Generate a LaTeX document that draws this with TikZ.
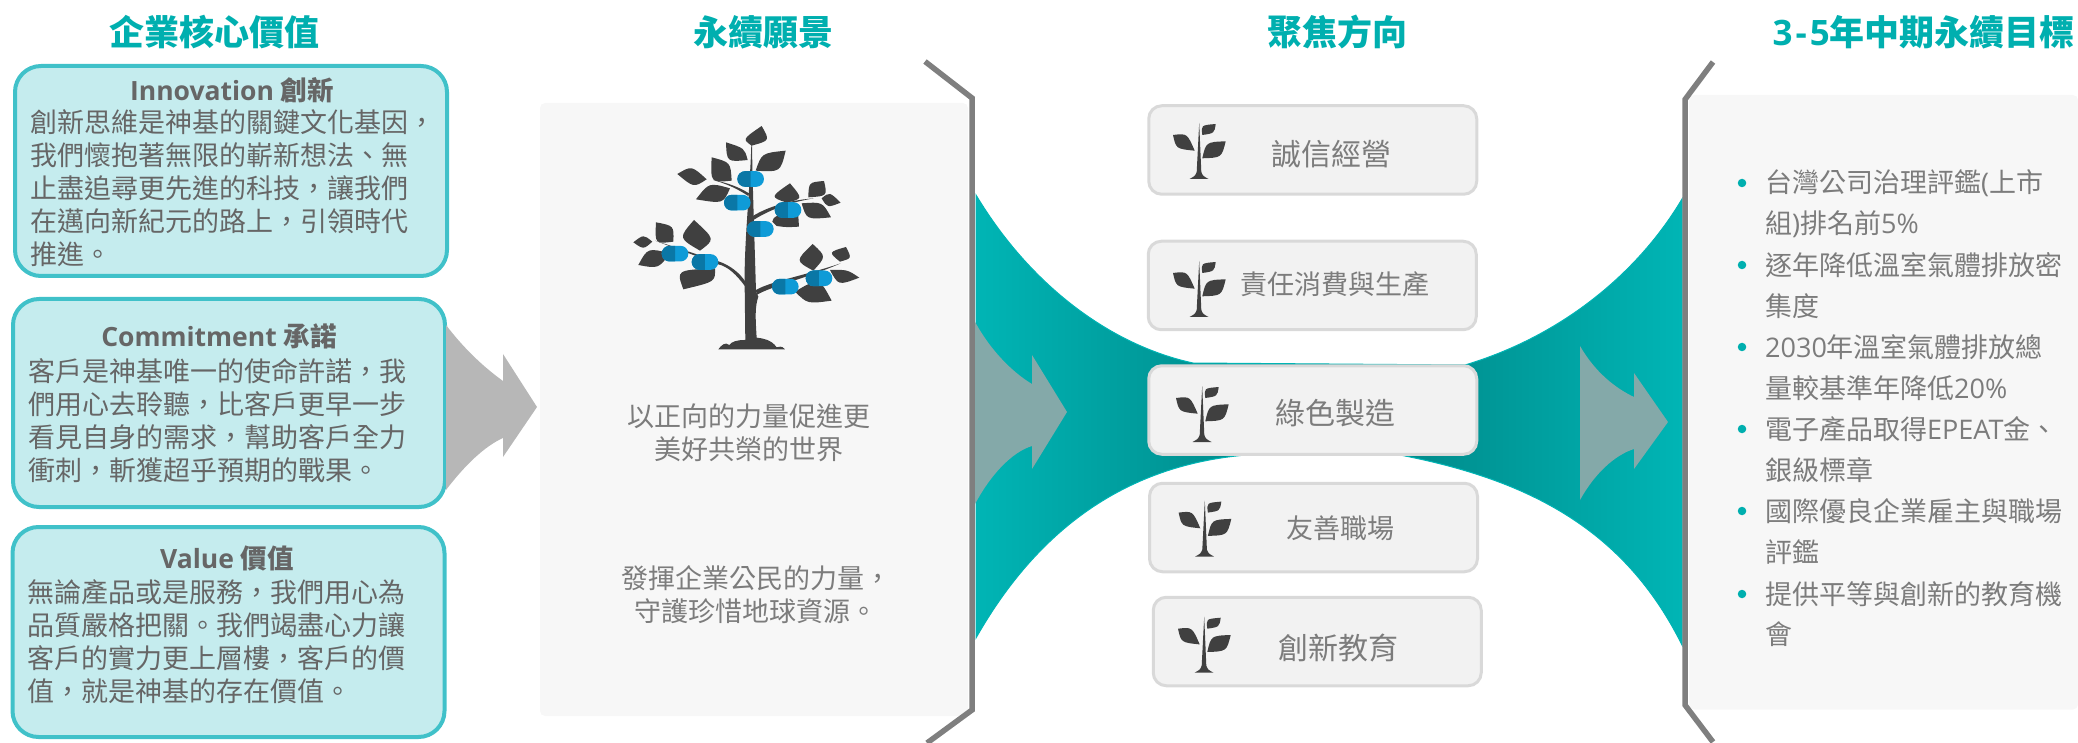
\documentclass[tikz,border=0pt]{standalone}
\usepackage{fontspec}
\setmainfont{Open Sans}
\newfontfamily\cjk{Noto Sans CJK TC}
\newcommand{\lat}[1]{{\rmfamily #1}}
\newcommand{\drawleaf}[8]{\fill[leaffill] (#1,#2) .. controls ({(8*#5-#1-#3)/6},{(8*#6-#2-#4)/6}) .. (#3,#4) .. controls ({(8*#7-#1-#3)/6},{(8*#8-#2-#4)/6}) .. (#1,#2) -- cycle;}

\definecolor{tealtitle}{HTML}{00AFAF}
\definecolor{valuefill}{HTML}{C5ECEE}
\definecolor{valueline}{HTML}{40C1C9}
\definecolor{bodygray}{HTML}{666666}
\definecolor{softgray}{HTML}{7C7C7C}
\definecolor{panelfill}{HTML}{F7F7F7}
\definecolor{bracketgray}{HTML}{7F7F7F}
\definecolor{arrowgray}{HTML}{B7B7B7}
\definecolor{arrowteal}{HTML}{84A9A9}
\definecolor{funneledge}{HTML}{00B5B5}
\definecolor{funnelmid}{HTML}{007F7F}
\definecolor{focusfill}{HTML}{F2F2F2}
\definecolor{focusline}{HTML}{D9D9D9}
\definecolor{leaffill}{HTML}{404040}
\definecolor{capdark}{HTML}{0A77A6}
\definecolor{caplight}{HTML}{0F9BD7}

\tikzset{
    title/.style={text=tealtitle, font=\fontsize{35}{40}\selectfont\cjk\bfseries, inner sep=0pt},
    valuebox/.style={draw=valueline, fill=valuefill, line width=4pt, rounded corners=26pt, inner sep=0pt},
    valuehead/.style={text=bodygray, font=\fontsize{26.5}{32}\selectfont\bfseries, inner sep=0pt},
    valuetext/.style={text=bodygray, font=\fontsize{27}{33}\selectfont\cjk, align=left, anchor=north west, inner sep=0pt},
    paneltext/.style={text=softgray, font=\fontsize{27}{33}\selectfont\cjk, align=center, inner sep=0pt},
    focusbox/.style={draw=focusline, fill=focusfill, line width=3pt, rounded corners=13pt, minimum width=328pt, minimum height=88.5pt, inner sep=0pt},
    focustext/.style={text=softgray, inner sep=0pt},
    goaltext/.style={text=softgray, font=\fontsize{27}{41}\selectfont\cjk, inner sep=0pt, anchor=west},
    goaldot/.style={circle, fill=tealtitle, minimum size=8.5pt, inner sep=0pt},
    bracket/.style={draw=bracketgray, line width=5.5pt},
    sprout/.pic={
        \drawleaf{-26}{-44}{-4.3}{-28.3}{-12.7}{-43.3}{-21}{-31.7}
        \drawleaf{16.7}{-55}{3.3}{-44}{4}{-52.7}{14}{-46.7}
        \drawleaf{26.7}{-37.7}{3.3}{-20.7}{9}{-35}{20.7}{-23.3}
        \fill[leaffill] (0.2,-56) -- (-2.3,-7) .. controls (-4,-3) .. (-9.5,0) -- (9.5,0) .. controls (4,-3) .. (2.3,-7) -- cycle;
    }
}

\begin{document}
\begin{tikzpicture}[x=1pt, y=-1pt]
    \useasboundingbox (0,0) rectangle (2078,743);

    % Column titles
    \node[title] (titlevalue) at (214.5,32) {企業核心價值};
    \node[title] (titlevision) at (763,32) {永續願景};
    \node[title] (titlefocus) at (1337.5,32) {聚焦方向};
    \node[title, anchor=east] (titlegoal) at (2075,32) {\lat{3\kern3pt-\kern3pt5}年中期永續目標};

    % Core value boxes
    \foreach \nom/\cx/\cy/\ht in {innovation/231/171/210, commitment/229/403/208, value/228.5/632/210} {
        \node[valuebox, minimum width=432pt, minimum height=\ht pt] (\nom) at (\cx,\cy) {};
    }
    \node[valuehead] (innovationhead) at (232,90) {Innovation {\cjk 創新}};
    \node[valuetext] (innovationtext) at (30,109.5) {創新思維是神基的關鍵文化基因，\\我們懷抱著無限的嶄新想法、無\\止盡追尋更先進的科技，讓我們\\在邁向新紀元的路上，引領時代\\推進。};
    \node[valuehead] (commitmenthead) at (219,336) {Commitment {\cjk 承諾}};
    \node[valuetext] (commitmenttext) at (28,358) {客戶是神基唯一的使命許諾，我\\們用心去聆聽，比客戶更早一步\\看見自身的需求，幫助客戶全力\\衝刺，斬獲超乎預期的戰果。};
    \node[valuehead] (valuehead) at (227,558) {Value {\cjk 價值}};
    \node[valuetext] (valuetext) at (27,579) {無論產品或是服務，我們用心為\\品質嚴格把關。我們竭盡心力讓\\客戶的實力更上層樓，客戶的價\\值，就是神基的存在價值。};

    % Grey arrow
    \fill[arrowgray] (446,325) .. controls (465,350) and (485,368) .. (503,381) -- (503,354) -- (537,407) -- (503,457) -- (503,438) .. controls (485,446) and (465,465) .. (446,490) -- cycle;

    % Panels
    \fill[panelfill, rounded corners=5pt] (540,103) rectangle (968,716);
    \fill[panelfill, rounded corners=5pt] (1689,95) rectangle (2078,709.5);

    % Teal funnel
    \shade[left color=funneledge, right color=funneledge, middle color=funnelmid, draw=funneledge, line width=1pt]
        (976,195) .. controls (1030,285) and (1110,345) .. (1193,363) -- (1465,365)
        .. controls (1565,335) and (1640,270) .. (1682,199) -- (1682,645)
        .. controls (1625,530) and (1530,480) .. (1400,455) -- (1246,455)
        .. controls (1130,465) and (1040,525) .. (976,638) -- cycle;

    % Arrows on the funnel
    \fill[arrowteal] (974,320) .. controls (990,350) and (1012,372) .. (1032,384) -- (1032,355) -- (1067,412) -- (1032,469) -- (1032,446) .. controls (1012,452) and (990,475) .. (974,506) -- cycle;
    \fill[arrowteal] (1580,346) .. controls (1595,372) and (1615,388) .. (1634,397) -- (1634,373) -- (1668,422) -- (1634,469) -- (1634,449) .. controls (1615,455) and (1595,473) .. (1580,500) -- cycle;

    % Brackets
    \draw[bracket] (925,61.5) -- (972,98) -- (972,710) -- (927,743);
    \draw[bracket] (1713,62) -- (1685,99.5) -- (1685,705) -- (1713,742);

    % Tree
    \begin{scope}[shift={(620,110)}, x=0.3333pt, y=-0.3333pt]
        \fill[leaffill] (394,105) .. controls (390,240) and (372,400) .. (374,525) -- (376,690)
            .. controls (350,690) and (335,695) .. (328,705) .. controls (315,695) and (305,705) .. (295,718) -- (495,718)
            .. controls (485,705) and (475,712) .. (470,712) .. controls (455,690) and (430,685) .. (410,683)
            .. controls (406,620) and (405,590) .. (415,560) -- (408,545) .. controls (404,400) and (398,240) .. (396,105) -- cycle;
        \fill[leaffill] (376,530) .. controls (350,495) and (325,470) .. (295,463) -- (105,392) -- (295,454) .. controls (330,465) and (360,490) .. (376,515) -- cycle;
        \fill[leaffill] (385,258) .. controls (350,235) and (320,222) .. (280,210) .. controls (320,218) and (355,230) .. (387,250) -- cycle;
        \fill[leaffill] (393,335) .. controls (430,310) and (490,280) .. (582,265) .. controls (490,272) and (425,300) .. (393,322) -- cycle;
        \fill[leaffill] (410,555) .. controls (450,530) and (560,505) .. (662,460) .. controls (560,495) and (450,515) .. (408,540) -- cycle;
        \foreach \ax/\ay/\bx/\by/\ux/\uy/\lx/\ly in {
            425/48/395/107/440/88/378/85, 318/97/383/150/368/117/328/148, 497/122/407/182/432/135/474/178,
            275/142/335/212/325/162/280/208, 172/192/260/208/215/175/220/225, 228/268/330/235/270/226/302/274,
            510/220/500/278/538/262/464/258, 612/213/565/262/572/222/614/253, 662/278/605/265/630/252/625/288,
            633/322/545/280/603/282/567/322, 40/397/97/395/70/379/70/413, 108/337/160/395/155/352/112/393,
            222/330/240/422/272/385/189/382, 55/465/150/430/88/422/112/469, 190/538/285/475/186/487/274/513,
            578/402/580/482/609/440/539/450, 678/411/660/455/636/428/689/442, 718/503/630/480/680/482/660/518,
            635/572/525/545/593/516/567/576} {
            \drawleaf{\ax}{\ay}{\bx}{\by}{\ux}{\uy}{\lx}{\ly}
        }
        \fill[leaffill] (457,335) .. controls (460,325) .. (470,318) -- (535,318) -- (537,350) .. controls (500,352) .. (470,348) -- cycle;
        % Blue capsules
        \foreach \cx/\cy in {392/207, 352/278, 504/300, 421/357, 165/431, 255/456, 496/530, 597/505} {
            \fill[caplight, rounded corners=7.8pt] (\cx-40,\cy-23.5) rectangle (\cx+40,\cy+23.5);
            \fill[capdark] (\cx,\cy-23.5) [rounded corners=7.8pt] -- (\cx-40,\cy-23.5) -- (\cx-40,\cy+23.5) [sharp corners] -- (\cx,\cy+23.5) -- cycle;
        }
    \end{scope}

    % Vision texts
    \node[paneltext] (visiontop) at (749,433) {以正向的力量促進更\\美好共榮的世界};
    \node[paneltext] (visionbottom) at (756,594.5) {發揮企業公民的力量，\\守護珍惜地球資源。};

    % Focus boxes
    \foreach \nom/\cx/\cy/\sx/\sy/\txt/\tx/\ty/\sz in {
        integrity/1312.75/150/1199/179/誠信經營/1331/154/30,
        consume/1312.25/285.5/1199/317/責任消費與生產/1334.6/284/27,
        green/1312.75/410/1202/442/綠色製造/1335/413.5/30,
        workplace/1313.5/527.5/1204.6/556.6/友善職場/1340/528/27,
        education/1317.25/641.5/1204/672.7/創新教育/1338/647.6/30} {
        \node[focusbox] (\nom) at (\cx,\cy) {};
        \pic at (\sx,\sy) {sprout};
        \node[focustext, font=\fontsize{\sz}{\sz}\selectfont\cjk] (\nom label) at (\tx,\ty) {\txt};
    }

    % Goal list
    \foreach \i/\y in {1/183, 2/265, 3/347, 4/429, 5/511, 6/594} {
        \node[goaldot] (dot\i) at (1742,\y) {};
    }
    \foreach \i/\y/\txt in {
        1/183/{台灣公司治理評鑑\lat{(}上市}, 2/224/{組\lat{)}排名前\lat{5\%}},
        3/265/{逐年降低溫室氣體排放密}, 4/306/{集度},
        5/347/{\lat{2030}年溫室氣體排放總}, 6/388/{量較基準年降低\lat{20\%}},
        7/429/{電子產品取得\lat{EPEAT}金、}, 8/470/{銀級標章},
        9/511/{國際優良企業雇主與職場}, 10/552/{評鑑},
        11/594/{提供平等與創新的教育機}, 12/634/{會}} {
        \node[goaltext] (goal\i) at (1765,\y) {\txt};
    }
\end{tikzpicture}
\end{document}
